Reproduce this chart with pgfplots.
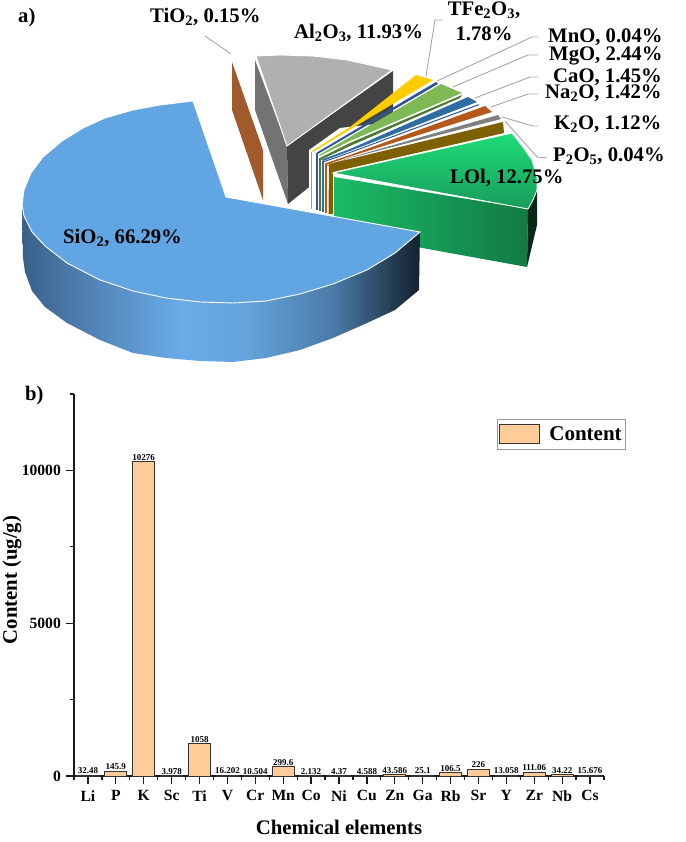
\documentclass[border=0pt]{standalone}
\usepackage{pgfplots}
\pgfplotsset{compat=1.18}
\usepackage{fontspec}
\setmainfont{Liberation Serif}
\definecolor{siotop}{HTML}{62A5E3}
\definecolor{sa}{HTML}{3A6088}
\definecolor{sb}{HTML}{5588BC}
\definecolor{sc}{HTML}{69ACE8}
\definecolor{sd}{HTML}{64A2DA}
\definecolor{se}{HTML}{4A7BA8}
\definecolor{sf}{HTML}{203548}
\definecolor{sg}{HTML}{13202E}
\definecolor{tio}{HTML}{A05A2C}
\definecolor{altop}{HTML}{B0B0B0}
\definecolor{alleft}{HTML}{737373}
\definecolor{alright}{HTML}{444444}
\definecolor{feo}{HTML}{FFCC00}
\definecolor{mno}{HTML}{2F5597}
\definecolor{mgo}{HTML}{7FB955}
\definecolor{mgd}{HTML}{4F7A2F}
\definecolor{cao}{HTML}{2E6CA4}
\definecolor{nao}{HTML}{B5591A}
\definecolor{koo}{HTML}{808080}
\definecolor{pgold}{HTML}{7F6000}
\definecolor{tan}{HTML}{B59A3E}
\definecolor{loitop}{HTML}{1FDC78}
\definecolor{loibot}{HTML}{179C5B}
\definecolor{loil}{HTML}{1BBB66}
\definecolor{loir}{HTML}{127A45}
\definecolor{loid}{HTML}{08261A}
\definecolor{lead}{HTML}{A6A6A6}
\definecolor{barf}{HTML}{FFCC99}
\definecolor{bard}{HTML}{333333}
\pgfdeclarehorizontalshading{sioside}{100bp}{color(0bp)=(sa); color(25bp)=(sa); color(35bp)=(sb); color(45bp)=(sc); color(53.6bp)=(sd); color(64bp)=(se); color(72.5bp)=(sf); color(75bp)=(sg); color(100bp)=(sg)}
\newcommand\lab{\fontsize{20.7}{22}\selectfont\bfseries}
\begin{document}
\begin{tikzpicture}[x=1pt,y=1pt]
\path (0,0) rectangle (685,842);
\begin{axis}[at={(0pt,0pt)},anchor=south west,scale only axis,width=685pt,height=842pt,
  xmin=0,xmax=685,ymin=0,ymax=842,y dir=reverse,hide axis,clip=false]
% Al2O3
\addplot[fill=alleft,draw=none] coordinates {(255,60)(287,146)(288,204)(255,110)} -- cycle;
\addplot[fill=alright,draw=none] coordinates {(287,146)(393,71)(393,120)(288,204)} -- cycle;
\addplot[fill=altop,draw=white,line width=0.9pt] coordinates {(256,56)(280,55)(313,56)(347,60)(392,70)(287,146)} -- cycle;
% TiO2
\addplot[fill=tio,draw=none] coordinates {(232,62)(263,150)(263,200)(232,110)} -- cycle;
% white backing for the small slices
\addplot[fill=white,draw=none] coordinates {(309,150)(340,128)(500,110)(505,135)(335,215)(309,215)} -- cycle;
% front strips
\addplot[fill=tan,draw=none] coordinates {(310.5,152)(312,152)(312,209)(310.5,209)} -- cycle;
\addplot[fill=mno,draw=none] coordinates {(315.5,154)(317.5,154)(317.5,210)(315.5,210)} -- cycle;
\addplot[fill=mgd,draw=none] coordinates {(318.5,158)(321,158)(321,211)(318.5,211)} -- cycle;
\addplot[fill=cao,draw=none] coordinates {(322,161)(324,161)(324,212)(322,212)} -- cycle;
\addplot[fill=nao,draw=none] coordinates {(325,164)(326.5,164)(326.5,213)(325,213)} -- cycle;
% small wedges
\addplot[fill=feo,draw=none] coordinates {(312,151)(350,127)(416,75)(433,80)(350,129.5)(313,152)} -- cycle;
\addplot[fill=mno,draw=none] coordinates {(316,153)(436,82)(438,84)(317,154.5)} -- cycle;
\addplot[fill=mgo,draw=none] coordinates {(319,155)(350,137)(441,84)(462,93)(350,141)(319.5,156)} -- cycle;
\addplot[fill=mgd,draw=none] coordinates {(320,158)(350,143)(462,95)(460,98)(350,146)(320.5,160)} -- cycle;
\addplot[fill=cao,draw=none] coordinates {(322,159.5)(350,149)(468,97)(477,102)(350,151)(323,161)} -- cycle;
\addplot[fill=mno,draw=none] coordinates {(323,161.5)(350,152)(479,104)(478,105.5)(350,153)(323,162.5)} -- cycle;
\addplot[fill=nao,draw=none] coordinates {(325,163.5)(350,155)(485,106)(492,112)(350,156.5)(326,165)} -- cycle;
\addplot[fill=koo,draw=none] coordinates {(327,165.5)(350,157.5)(498,115)(501,119)(350,158)(328,166)} -- cycle;
% dark gold
\addplot[fill=pgold,draw=none] coordinates {(329,164)(350,159)(503,122)(504,133)(333,172)(333,214)(328.5,214)} -- cycle;
% LOI
\addplot[shade,left color=loil,right color=loir,draw=none] coordinates {(334,177)(528,209)(527,267)(334,232)} -- cycle;
\addplot[fill=loid,draw=none] coordinates {(528,209)(537,190)(537,225)(527,267)} -- cycle;
\addplot[shade,top color=loitop,bottom color=loibot,draw=white,line width=0.9pt] coordinates {(333,173)(512,133)(523,147)(532,160)(537,177)(537,190)(533,200)(528,209)} -- cycle;
% SiO2 side
\addplot[shade,shading=sioside,draw=none] coordinates {(22,205)(24,216)(32,232)(45,246)(67,263)(100,280)(133,291)(166,298)(200,302)(233,303)(266,301)(300,294)(333,284)(367,270)(395,253)(420,232)(419,290)(395,310)(367,323)(333,338)(300,350)(266,358)(233,362)(200,361)(166,358)(133,353)(100,340)(67,323)(45,307)(32,291)(25,272)(23,258)} -- cycle;
% SiO2 top
\addplot[fill=siotop,draw=white,line width=0.9pt] coordinates {(226,197)(193,101)(160,105)(133,110)(105,118)(83,128)(62,141)(43,157)(31,173)(24,190)(22,205)(24,216)(32,232)(45,246)(67,263)(100,280)(133,291)(166,298)(200,302)(233,303)(266,301)(300,294)(333,284)(367,270)(395,253)(420,232)} -- cycle;
% leaders
\addplot[lead,line width=0.9pt] coordinates {(205,36)(231,54)};
\addplot[lead,line width=0.9pt] coordinates {(443,20)(435,20)(426,76)};
\addplot[lead,line width=0.9pt] coordinates {(538,37)(532,37)(437,81)};
\addplot[lead,line width=0.9pt] coordinates {(538,55)(528,55)(453,87)};
\addplot[lead,line width=0.9pt] coordinates {(538,77)(530,77)(475,98)};
\addplot[lead,line width=0.9pt] coordinates {(538,94)(528,94)(491,107)};
\addplot[lead,line width=0.9pt] coordinates {(538,126)(533,126)(502,117)};
\addplot[lead,line width=0.9pt] coordinates {(547,158)(537,157)(505,121)};
% texts
\node[font=\lab,inner sep=0pt,anchor=west] at (axis cs:18,18) {a)};
\node[font=\lab,inner sep=0pt,anchor=west] at (axis cs:25,396) {b)};
\node[font=\lab,inner sep=0pt,anchor=west] at (axis cs:150,17) {TiO\textsubscript{2}, 0.15\%};
\node[font=\lab,inner sep=0pt,anchor=west] at (axis cs:294,33) {Al\textsubscript{2}O\textsubscript{3}, 11.93\%};
\node[font=\lab,inner sep=0pt,anchor=center] at (axis cs:484,10) {TFe\textsubscript{2}O\textsubscript{3},};
\node[font=\lab,inner sep=0pt,anchor=center] at (axis cs:484,34) {1.78\%};
\node[font=\lab,inner sep=0pt,anchor=west] at (axis cs:548,37) {MnO, 0.04\%};
\node[font=\lab,inner sep=0pt,anchor=west] at (axis cs:549,56) {MgO, 2.44\%};
\node[font=\lab,inner sep=0pt,anchor=west] at (axis cs:553,77) {CaO, 1.45\%};
\node[font=\lab,inner sep=0pt,anchor=west] at (axis cs:545,93) {Na\textsubscript{2}O, 1.42\%};
\node[font=\lab,inner sep=0pt,anchor=west] at (axis cs:554,124) {K\textsubscript{2}O, 1.12\%};
\node[font=\lab,inner sep=0pt,anchor=west] at (axis cs:553,156) {P\textsubscript{2}O\textsubscript{5}, 0.04\%};
\node[font=\lab,inner sep=0pt,anchor=west] at (axis cs:450,178) {LOl, 12.75\%};
\node[font=\lab,inner sep=0pt,anchor=west] at (axis cs:63,238) {SiO\textsubscript{2}, 66.29\%};
\end{axis}
\begin{axis}[at={(74pt,66pt)},anchor=south west,scale only axis,width=530pt,height=382pt,
  xmin=0.5,xmax=19.5,ymin=0,ymax=12500,clip=false,
  axis x line=bottom,axis y line=left,axis line style={-,line width=1.5pt,color=black!90},
  ytick={0,5000,10000},minor ytick={2500,7500,12500},
  xtick={1,...,19},minor xtick={0.5,1.5,...,19.5},
  xticklabels={Li,P,K,Sc,Ti,V,Cr,Mn,Co,Ni,Cu,Zn,Ga,Rb,Sr,Y,Zr,Nb,Cs},
  major tick length=8pt,minor tick length=4pt,
  tick style={line width=1.3pt,color=black!90},
  tick align=outside,
  /pgf/number format/assume math mode=true,
  /pgf/number format/1000 sep={},
  scaled y ticks=false,
  yticklabel style={font=\fontsize{15.6}{17}\selectfont\bfseries,inner xsep=0pt,xshift=-5pt},
  xticklabel style={font=\fontsize{15.6}{17}\selectfont\bfseries,inner ysep=0pt,yshift=-6pt},
  xlabel={Chemical elements},
  ylabel={Content (ug/g)},
  every axis x label/.style={at={(axis cs:10,0)},anchor=center,yshift=-51pt,font=\lab},
  every axis y label/.style={at={(axis description cs:-0.117,0.513)},rotate=90,anchor=center,inner sep=0pt,font=\fontsize{20.7}{22}\selectfont\bfseries},
  legend style={at={(0.798,0.9346)},anchor=north west,draw=black!40,line width=0.9pt,inner xsep=2pt,inner ysep=5pt,font=\fontsize{21}{22}\selectfont\bfseries},
  legend image code/.code={\draw[#1,line width=1pt] (0pt,-9.5pt) rectangle (39.5pt,9.5pt);\path[draw=none,fill=none] (47.5pt,0pt) circle (0pt);},
  ]
\addplot[ybar,bar width=22.3pt,bar shift=0pt,fill=barf,draw=bard,line width=1pt,
  point meta=explicit symbolic,nodes near coords,
  every node near coord/.append style={font=\fontsize{9}{10}\selectfont\bfseries,inner sep=1pt,color=black}]
 coordinates {(1,32.48)[32.48] (2,145.9)[145.9] (3,10276)[10276] (4,3.978)[3.978] (5,1058)[1058] (6,16.202)[16.202] (7,10.504)[10.504] (8,299.6)[299.6] (9,2.132)[2.132] (10,4.37)[4.37] (11,4.588)[4.588] (12,43.586)[43.586] (13,25.1)[25.1] (14,106.5)[106.5] (15,226)[226] (16,13.058)[13.058] (17,111.06)[111.06] (18,34.22)[34.22] (19,15.676)[15.676]};
\addlegendentry{Content}
\end{axis}
\end{tikzpicture}
\end{document}
